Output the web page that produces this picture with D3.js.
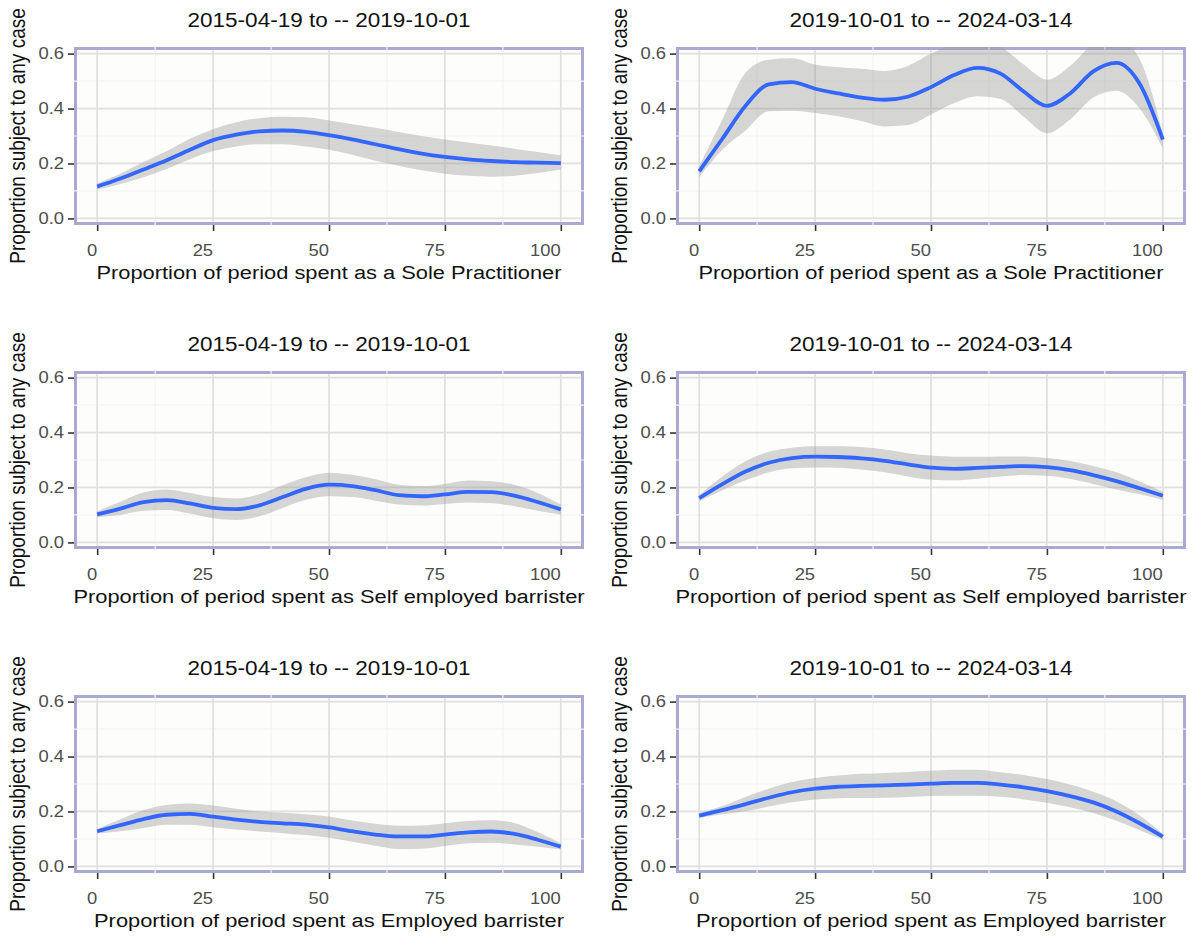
<!DOCTYPE html>
<meta charset="utf-8">
<script src="https://cdn.jsdelivr.net/npm/d3@7"></script>
<style>
body{margin:0;background:#fff;}
text{font-family:"Liberation Sans",Arial,sans-serif;}
</style>
<body>
<div id="chart"></div>
<script>

var xs = [0,5,10,15,20,25,30,35,40,45,50,55,60,65,70,75,80,85,90,95,100];

var periods = ["2015-04-19 to -- 2019-10-01", "2019-10-01 to -- 2024-03-14"];
var roles = ["Proportion of period spent as a Sole Practitioner",
             "Proportion of period spent as Self employed barrister",
             "Proportion of period spent as Employed barrister"];
var yTitle = "Proportion subject to any case";
var xTicks = [0,25,50,75,100];
var yTicks = [0,0.2,0.4,0.6];

// Sole practitioner
var soleFitA  = [0.116,0.145,0.178,0.212,0.250,0.285,0.305,0.317,0.320,0.315,0.303,0.288,0.270,0.252,0.236,0.224,0.215,0.209,0.205,0.203,0.201];
var soleLowA  = [0.105,0.125,0.150,0.180,0.215,0.245,0.262,0.270,0.270,0.262,0.250,0.232,0.210,0.192,0.175,0.163,0.155,0.152,0.155,0.165,0.178];
var soleHighA = [0.128,0.163,0.205,0.245,0.290,0.325,0.350,0.365,0.370,0.368,0.356,0.343,0.330,0.315,0.300,0.287,0.276,0.265,0.254,0.242,0.230];
var soleFitB  = [0.171,0.290,0.410,0.488,0.496,0.472,0.455,0.440,0.432,0.443,0.478,0.522,0.548,0.527,0.462,0.410,0.455,0.535,0.566,0.490,0.287];
var soleLowB  = [0.150,0.250,0.320,0.390,0.392,0.384,0.372,0.355,0.335,0.340,0.378,0.420,0.445,0.435,0.370,0.310,0.360,0.440,0.465,0.400,0.255];
var soleHighB = [0.190,0.360,0.530,0.578,0.583,0.560,0.550,0.545,0.537,0.555,0.600,0.635,0.648,0.625,0.560,0.505,0.555,0.635,0.660,0.580,0.310];

// Self employed barrister
var selfFitA  = [0.102,0.123,0.147,0.154,0.142,0.126,0.121,0.135,0.165,0.195,0.210,0.205,0.190,0.172,0.168,0.175,0.184,0.183,0.170,0.147,0.120];
var selfLowA  = [0.092,0.100,0.115,0.118,0.105,0.088,0.082,0.095,0.125,0.155,0.168,0.165,0.152,0.138,0.134,0.140,0.145,0.143,0.132,0.115,0.102];
var selfHighA = [0.113,0.148,0.182,0.193,0.180,0.165,0.160,0.175,0.208,0.237,0.254,0.246,0.230,0.210,0.205,0.213,0.225,0.223,0.210,0.180,0.138];
var selfFitB  = [0.161,0.212,0.258,0.290,0.307,0.312,0.311,0.306,0.297,0.284,0.272,0.268,0.271,0.275,0.278,0.274,0.263,0.245,0.223,0.197,0.170];
var selfLowB  = [0.150,0.190,0.226,0.255,0.270,0.273,0.272,0.265,0.255,0.240,0.228,0.226,0.232,0.240,0.245,0.243,0.232,0.213,0.193,0.175,0.155];
var selfHighB = [0.172,0.240,0.295,0.330,0.345,0.350,0.350,0.347,0.338,0.325,0.316,0.312,0.312,0.313,0.313,0.307,0.296,0.278,0.255,0.222,0.185];

// Employed barrister
var empFitA   = [0.128,0.150,0.172,0.188,0.191,0.181,0.170,0.162,0.157,0.152,0.142,0.128,0.116,0.109,0.109,0.116,0.124,0.127,0.118,0.097,0.072];
var empLowA   = [0.120,0.128,0.140,0.152,0.152,0.143,0.134,0.127,0.121,0.114,0.104,0.090,0.075,0.063,0.064,0.074,0.084,0.086,0.080,0.072,0.062];
var empHighA  = [0.136,0.172,0.205,0.224,0.229,0.222,0.210,0.200,0.195,0.190,0.182,0.167,0.155,0.148,0.149,0.157,0.165,0.168,0.158,0.125,0.084];
var empFitB   = [0.185,0.205,0.227,0.250,0.270,0.283,0.290,0.293,0.295,0.298,0.301,0.304,0.304,0.298,0.288,0.274,0.256,0.233,0.200,0.157,0.108];
var empLowB   = [0.176,0.190,0.201,0.218,0.234,0.244,0.248,0.249,0.250,0.253,0.256,0.257,0.257,0.254,0.244,0.232,0.215,0.194,0.166,0.132,0.098];
var empHighB  = [0.194,0.220,0.253,0.283,0.307,0.322,0.331,0.337,0.340,0.344,0.348,0.352,0.352,0.343,0.333,0.318,0.298,0.272,0.237,0.185,0.118];

var panels = [
  {row:0, col:0, fit:soleFitA, low:soleLowA, high:soleHighA},
  {row:0, col:1, fit:soleFitB, low:soleLowB, high:soleHighB},
  {row:1, col:0, fit:selfFitA, low:selfLowA, high:selfHighA},
  {row:1, col:1, fit:selfFitB, low:selfLowB, high:selfHighB},
  {row:2, col:0, fit:empFitA,  low:empLowA,  high:empHighA},
  {row:2, col:1, fit:empFitB,  low:empLowB,  high:empHighB}
];

var W = 1199, H = 938;
var colLeft = [74, 676], pw = 510;
var rowTop = [47, 371, 695], ph = 178;
var sx = 1.15; // the text in the original is a bit wide

var svg = d3.select("#chart").append("svg")
    .attr("width", W)
    .attr("height", H);

panels.forEach(function(p, i){
  var left = colLeft[p.col], top = rowTop[p.row];
  var x = d3.scaleLinear().domain([-5,105]).range([left, left+pw]);
  var y = d3.scaleLinear().domain([-0.024,0.624]).range([top+ph, top]);
  var cx = left + pw/2;

  var g = svg.append("g");

  // panel background + border
  g.append("rect")
    .attr("x", left).attr("y", top).attr("width", pw).attr("height", ph)
    .attr("fill", "#fdfdfb");
  g.append("rect")
    .attr("x", left+1.5).attr("y", top+1.5).attr("width", pw-3).attr("height", ph-3)
    .attr("fill", "none").attr("stroke", "#a9a9d4").attr("stroke-width", 3);

  // minor grid (white, crosses the border)
  var xMinor = [12.5,37.5,62.5,87.5], yMinor = [0.1,0.3,0.5];
  g.selectAll(".vminor").data(xMinor).enter().append("line")
    .attr("x1", function(d){return x(d);}).attr("x2", function(d){return x(d);})
    .attr("y1", top).attr("y2", top+ph)
    .attr("stroke", "#f4f4f4").attr("stroke-width", 1.2);
  g.selectAll(".hminor").data(yMinor).enter().append("line")
    .attr("y1", function(d){return y(d);}).attr("y2", function(d){return y(d);})
    .attr("x1", left).attr("x2", left+pw)
    .attr("stroke", "#f4f4f4").attr("stroke-width", 1.2);

  // major grid
  g.selectAll(".vmajor").data(xTicks).enter().append("line")
    .attr("x1", function(d){return x(d);}).attr("x2", function(d){return x(d);})
    .attr("y1", top+3).attr("y2", top+ph-3)
    .attr("stroke", "#e0e0e0").attr("stroke-width", 1.8);
  g.selectAll(".hmajor").data(yTicks).enter().append("line")
    .attr("y1", function(d){return y(d);}).attr("y2", function(d){return y(d);})
    .attr("x1", left+3).attr("x2", left+pw-3)
    .attr("stroke", "#e0e0e0").attr("stroke-width", 1.8);

  // clip for the smooth
  var clipId = "clip" + i;
  svg.append("clipPath").attr("id", clipId).append("rect")
    .attr("x", left).attr("y", top).attr("width", pw).attr("height", ph);

  var band = d3.area()
    .x(function(d, j){return x(xs[j]);})
    .y0(function(d, j){return y(p.low[j]);})
    .y1(function(d, j){return y(p.high[j]);})
    .curve(d3.curveMonotoneX);
  var line = d3.line()
    .x(function(d, j){return x(xs[j]);})
    .y(function(d){return y(d);})
    .curve(d3.curveMonotoneX);

  var dg = g.append("g").attr("clip-path", "url(#" + clipId + ")");
  dg.append("path").datum(p.fit)
    .attr("d", band)
    .attr("fill", "#999999").attr("fill-opacity", 0.4);
  dg.append("path").datum(p.fit)
    .attr("d", line)
    .attr("fill", "none").attr("stroke", "#3366ff").attr("stroke-width", 3.8);

  // axes: tick marks via d3 axes, labels drawn separately (right aligned like the original)
  g.append("g").attr("transform", "translate(0," + (top+ph) + ")")
    .call(d3.axisBottom(x).tickValues(xTicks).tickSize(6).tickFormat(""));
  g.append("g").attr("transform", "translate(" + left + ",0)")
    .call(d3.axisLeft(y).tickValues(yTicks).tickSize(6).tickFormat(""));
  g.selectAll(".domain").remove();
  g.selectAll(".tick line").attr("stroke", "#333333").attr("stroke-width", 1.6);

  g.selectAll(".xlab").data(xTicks).enter().append("text")
    .attr("transform", function(d){return "translate(" + x(d) + "," + (top+ph+31) + ") scale(" + sx + ",1)";})
    .attr("text-anchor", "end")
    .attr("font-size", "16px")
    .attr("fill", "#4d4d4d")
    .text(function(d){return d;});
  g.selectAll(".ylab").data(yTicks).enter().append("text")
    .attr("transform", function(d){return "translate(" + (left-10) + "," + (y(d)+5.7) + ") scale(" + sx + ",1)";})
    .attr("text-anchor", "end")
    .attr("font-size", "16px")
    .attr("fill", "#4d4d4d")
    .text(function(d){return d3.format(".1f")(d);});

  // titles
  g.append("text")
    .attr("transform", "translate(" + cx + "," + (top-20) + ") scale(" + sx + ",1)")
    .attr("text-anchor", "middle")
    .attr("font-size", "19.6px")
    .attr("fill", "#111")
    .text(periods[p.col]);
  g.append("text")
    .attr("transform", "translate(" + cx + "," + (top+ph+54) + ") scale(" + sx + ",1)")
    .attr("text-anchor", "middle")
    .attr("font-size", "19px")
    .attr("fill", "#111")
    .text(roles[p.row]);
  g.append("text")
    .attr("transform", "translate(" + (left-49) + "," + (top+ph/2) + ") rotate(-90) scale(1," + sx + ")")
    .attr("text-anchor", "middle")
    .attr("font-size", "19px")
    .attr("fill", "#111")
    .text(yTitle);
});

</script>
</body>
